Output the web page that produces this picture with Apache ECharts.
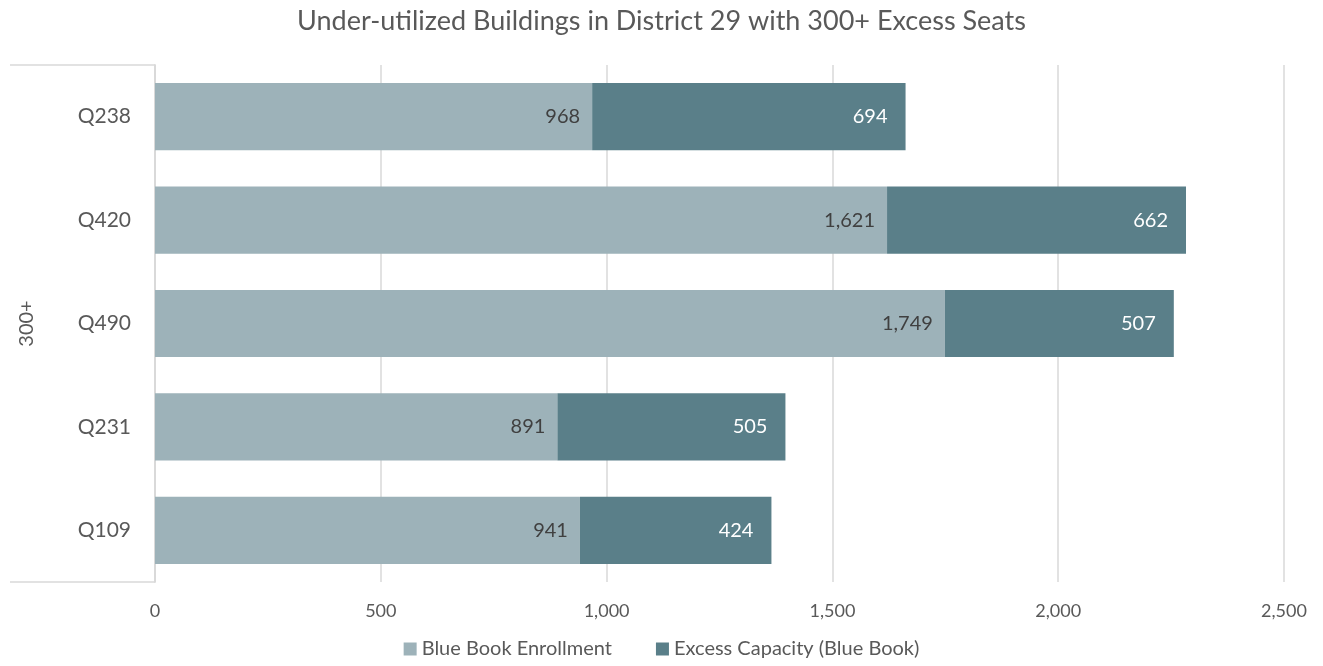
<!DOCTYPE html>
<html>
<head>
<meta charset="utf-8">
<script src="https://cdn.jsdelivr.net/npm/echarts@6/dist/echarts.min.js"></script>
<style>
  html, body { margin: 0; padding: 0; background: #fff; }
  #myChart { width: 1323px; height: 666px; }
</style>
</head>
<body>
<div id="myChart"></div>
<script>
// data
const buildings = ["Q238", "Q420", "Q490", "Q231", "Q109"];
const enrollment = [968, 1621, 1749, 891, 941];
const excess = [694, 662, 507, 505, 424];
const groupLabel = "300+";
const xTicks = { min: 0, max: 2500, interval: 500 };

const fontFam = "Lato, 'Open Sans', sans-serif";
const fmt = (v) => Number(v).toLocaleString("en-US");

let myChart = echarts.init(document.getElementById("myChart"));
let option = {
  title: {
    text: "Under-utilized Buildings in District 29 with 300+ Excess Seats",
    left: "center",
    top: 3,
    textStyle: { fontFamily: fontFam, fontSize: 27, fontWeight: "normal", color: "#595959" },
  },
  legend: {
    bottom: 2,
    left: "center",
    itemWidth: 13,
    itemHeight: 13,
    itemGap: 44,
    icon: "rect",
    textStyle: { fontFamily: fontFam, fontSize: 20, color: "#595959" },
  },
  grid: { left: 155, right: 39, top: 65, bottom: 84 },
  xAxis: {
    type: "value",
    min: xTicks.min,
    max: xTicks.max,
    interval: xTicks.interval,
    axisLine: { show: false },
    axisTick: { show: false },
    splitLine: { lineStyle: { color: "#d9d9d9", width: 1.5 } },
    axisLabel: { fontFamily: fontFam, fontSize: 18, color: "#595959", margin: 20, formatter: fmt },
  },
  yAxis: [
    {
      type: "category",
      data: buildings,
      inverse: true,
      axisLine: { show: true, lineStyle: { color: "#d9d9d9", width: 1.5 } },
      axisTick: { show: false },
      axisLabel: { fontFamily: fontFam, fontSize: 21, color: "#595959", margin: 24 },
    },
    {
      type: "category",
      data: [groupLabel],
      position: "left",
      name: groupLabel,
      nameLocation: "middle",
      nameRotate: 90,
      nameGap: 118,
      nameTextStyle: { fontFamily: fontFam, fontSize: 20, color: "#595959" },
      axisLine: { show: true, lineStyle: { color: "#d9d9d9", width: 1.5 } },
      axisTick: { show: true, length: 145, lineStyle: { color: "#d9d9d9", width: 1.5 } },
      axisLabel: { show: false },
    },
  ],
  series: [
    {
      name: "Blue Book Enrollment",
      type: "bar",
      stack: "total",
      barWidth: "65%",
      data: enrollment,
      itemStyle: { color: "#9db2b9" },
      label: {
        show: true,
        position: "insideRight",
        distance: 12,
        fontFamily: fontFam,
        fontSize: 20,
        color: "#404040",
        formatter: (p) => fmt(p.value),
      },
    },
    {
      name: "Excess Capacity (Blue Book)",
      type: "bar",
      stack: "total",
      data: excess,
      itemStyle: { color: "#5a7f89" },
      label: {
        show: true,
        position: "insideRight",
        distance: 18,
        fontFamily: fontFam,
        fontSize: 20,
        color: "#ffffff",
        formatter: (p) => fmt(p.value),
      },
    },
  ],
};
myChart.setOption(option);
window.addEventListener("resize", () => { myChart.resize(); });
</script>
</body>
</html>
